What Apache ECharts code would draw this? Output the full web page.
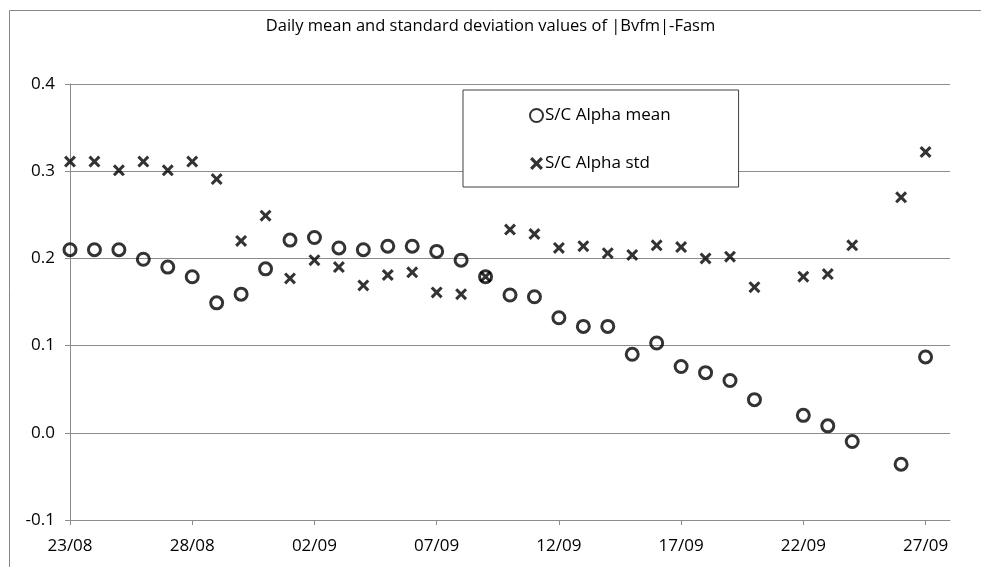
<!DOCTYPE html>
<html>
<head>
<meta charset="utf-8">
<script src="https://cdn.jsdelivr.net/npm/echarts@6/dist/echarts.min.js"></script>
<style>
  html, body { margin: 0; padding: 0; background: #fff; }
  #chart { width: 981px; height: 567px; }
</style>
</head>
<body>
<div id="chart"></div>
<script>
// days on the x axis (23/08 .. 28/09), one per category
const days = [
  '23/08', '24/08', '25/08', '26/08', '27/08', '28/08', '29/08', '30/08', '31/08',
  '01/09', '02/09', '03/09', '04/09', '05/09', '06/09', '07/09', '08/09', '09/09',
  '10/09', '11/09', '12/09', '13/09', '14/09', '15/09', '16/09', '17/09', '18/09',
  '19/09', '20/09', '21/09', '22/09', '23/09', '24/09', '25/09', '26/09', '27/09', '28/09'
]

// daily values, null = no data that day
const alphaMean = [
  0.210, 0.210, 0.210, 0.199, 0.190, 0.179, 0.149, 0.159, 0.188,
  0.221, 0.224, 0.212, 0.210, 0.214, 0.214, 0.208, 0.198, 0.179,
  0.158, 0.156, 0.132, 0.122, 0.122, 0.090, 0.103, 0.076, 0.069,
  0.060, 0.038, null, 0.020, 0.008, -0.010, null, -0.036, 0.087
]
const alphaStd = [
  0.311, 0.311, 0.301, 0.311, 0.301, 0.311, 0.291, 0.220, 0.249,
  0.177, 0.198, 0.190, 0.169, 0.181, 0.184, 0.161, 0.159, 0.179,
  0.233, 0.228, 0.212, 0.214, 0.206, 0.204, 0.215, 0.213, 0.200,
  0.202, 0.167, null, 0.179, 0.182, 0.215, null, 0.270, 0.322
]

const FONT = '"Open Sans", sans-serif'
const AXIS_GREY = '#8c8c8c'
// "x" marker as a filled polygon
const CROSS = 'path://M0,1.8L1.8,0L5,3.2L8.2,0L10,1.8L6.8,5L10,8.2L8.2,10L5,6.8L1.8,10L0,8.2L3.2,5Z'

const toPairs = arr => arr.map((v, i) => (v === null ? null : [i, v])).filter(Boolean)
const labelEvery5 = i => i % 5 === 0 && i < days.length - 1

const chart = echarts.init(document.getElementById('chart'))
chart.setOption({
  animation: false,
  textStyle: { fontFamily: FONT },
  title: {
    text: 'Daily mean and standard deviation values of |Bvfm|-Fasm',
    left: 'center',
    top: 13,
    textStyle: { fontFamily: FONT, fontSize: 16.5, fontWeight: 'normal', color: '#000' },
  },
  graphic: [{
    type: 'polyline',
    shape: { points: [[9.5, 600], [9.5, 10.5], [990, 10.5]] },
    style: { stroke: '#868686', lineWidth: 1, fill: null },
  }],
  legend: {
    orient: 'vertical',
    left: 463,
    top: 90,
    padding: [17, 68, 15, 66],
    itemGap: 31,
    itemWidth: 13,
    itemHeight: 13,
    borderColor: '#404040',
    borderWidth: 1,
    backgroundColor: '#fff',
    textStyle: { fontFamily: FONT, fontSize: 17, color: '#000', padding: [0, 0, 0, -3] },
    data: ['S/C Alpha mean', 'S/C Alpha std'],
  },
  grid: { left: 70, right: 31, top: 84, bottom: 47 },
  xAxis: {
    type: 'category',
    data: days,
    boundaryGap: false,
    axisLine: { onZero: false, lineStyle: { color: AXIS_GREY } },
    axisTick: { show: true, length: 5, interval: labelEvery5, lineStyle: { color: AXIS_GREY } },
    axisLabel: { interval: labelEvery5, color: '#000', fontSize: 17, margin: 18 },
    splitLine: { show: false },
  },
  yAxis: {
    type: 'value',
    min: -0.1,
    max: 0.4,
    interval: 0.1,
    axisLine: { show: true, lineStyle: { color: AXIS_GREY } },
    axisTick: { show: true, length: 5, lineStyle: { color: AXIS_GREY } },
    axisLabel: { color: '#000', fontSize: 17, margin: 15, formatter: v => v.toFixed(1) },
    splitLine: { lineStyle: { color: AXIS_GREY } },
  },
  series: [
    {
      name: 'S/C Alpha mean',
      type: 'scatter',
      data: toPairs(alphaMean),
      symbol: 'circle',
      symbolSize: 12,
      itemStyle: { color: 'rgba(0,0,0,0)', borderColor: '#000', borderWidth: 3 },
    },
    {
      name: 'S/C Alpha std',
      type: 'scatter',
      data: toPairs(alphaStd),
      symbol: CROSS,
      symbolSize: 12,
      itemStyle: { color: '#000' },
    },
  ],
})
</script>
</body>
</html>
